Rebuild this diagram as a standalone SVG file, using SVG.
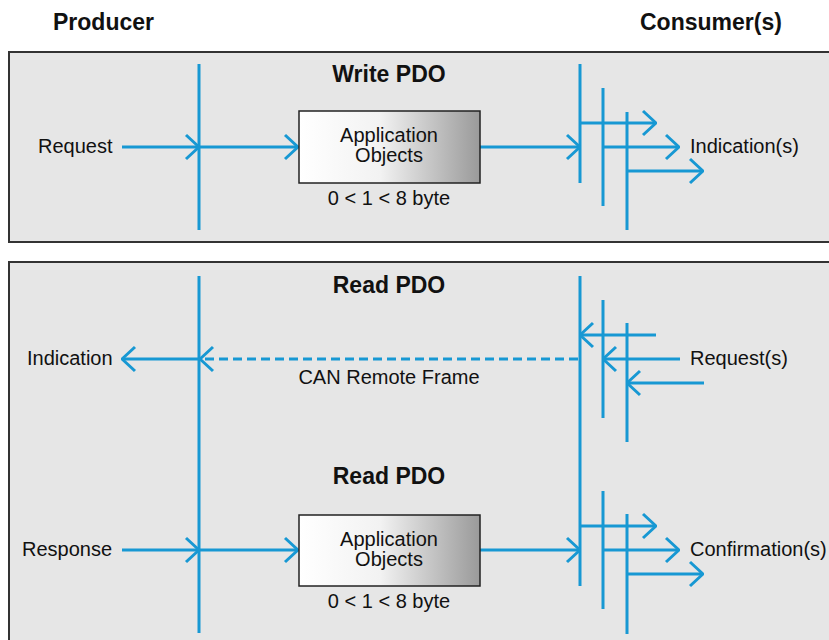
<svg xmlns="http://www.w3.org/2000/svg" width="829" height="640" viewBox="0 0 829 640">
<defs>
<linearGradient id="boxg" x1="0" y1="0" x2="1" y2="0">
<stop offset="0" stop-color="#ffffff"/>
<stop offset="0.45" stop-color="#f2f2f2"/>
<stop offset="1" stop-color="#9a9a9a"/>
</linearGradient>
<marker id="ah" viewBox="0 0 16 28" refX="15" refY="14" markerWidth="16" markerHeight="28" markerUnits="userSpaceOnUse" orient="auto">
<path d="M2,2 L15,14 L2,26" fill="none" stroke="#1798d3" stroke-width="3"/>
</marker>
</defs>
<style>
.panel{fill:#e6e6e6;stroke:#333;stroke-width:2}
.ln{stroke:#1798d3;stroke-width:3;fill:none}
.ar{stroke:#1798d3;stroke-width:3;fill:none;marker-end:url(#ah)}
.dash{stroke-dasharray:9,5}
.t{font-family:"Liberation Sans",Arial,sans-serif;font-size:20px;fill:#111}
.b{font-family:"Liberation Sans",Arial,sans-serif;font-size:23px;font-weight:bold;fill:#111}
.box{fill:url(#boxg);stroke:#222;stroke-width:1.5}
</style>
<rect width="829" height="640" fill="#fff"/>
<text class="b" x="53" y="30">Producer</text>
<text class="b" x="640" y="30">Consumer(s)</text>
<rect class="panel" x="9" y="52" width="830" height="190"/>
<rect class="panel" x="9" y="262" width="830" height="400"/>
<g id="connectors">
<line class="ln" x1="199" y1="64" x2="199" y2="230"/>
<line class="ln" x1="580" y1="64" x2="580" y2="183"/>
<line class="ln" x1="603" y1="88" x2="603" y2="206"/>
<line class="ln" x1="627" y1="112" x2="627" y2="230"/>
<line class="ar" x1="122" y1="147" x2="199" y2="147"/>
<line class="ar" x1="199" y1="147" x2="298" y2="147"/>
<line class="ar" x1="480" y1="147" x2="580" y2="147"/>
<line class="ar" x1="580" y1="123" x2="656" y2="123"/>
<line class="ar" x1="603" y1="147" x2="679" y2="147"/>
<line class="ar" x1="627" y1="171" x2="703" y2="171"/>
<line class="ln" x1="199" y1="276" x2="199" y2="633"/>
<line class="ln" x1="580" y1="276" x2="580" y2="586"/>
<line class="ln" x1="603" y1="300" x2="603" y2="418"/>
<line class="ln" x1="627" y1="323" x2="627" y2="442"/>
<line class="ln" x1="603" y1="491" x2="603" y2="609"/>
<line class="ln" x1="627" y1="514" x2="627" y2="634"/>
<line class="ar" x1="656" y1="335" x2="580" y2="335"/>
<line class="ar" x1="680" y1="359" x2="603" y2="359"/>
<line class="ar" x1="704" y1="383" x2="627" y2="383"/>
<line class="ar dash" x1="578" y1="359" x2="200" y2="359"/>
<line class="ar" x1="199" y1="359" x2="122" y2="359"/>
<line class="ar" x1="122" y1="550" x2="199" y2="550"/>
<line class="ar" x1="199" y1="550" x2="298" y2="550"/>
<line class="ar" x1="480" y1="550" x2="580" y2="550"/>
<line class="ar" x1="580" y1="526" x2="656" y2="526"/>
<line class="ar" x1="603" y1="550" x2="679" y2="550"/>
<line class="ar" x1="627" y1="574" x2="703" y2="574"/>
</g>
<g id="write-pdo">
<text class="b" x="389" y="82" text-anchor="middle">Write PDO</text>
<text class="t" x="38" y="153">Request</text>
<text class="t" x="690" y="153">Indication(s)</text>
</g>
<g id="app-objects-1">
<rect class="box" x="299" y="111" width="181" height="72"/>
<text class="t" x="389" y="142" text-anchor="middle">Application</text>
<text class="t" x="389" y="162" text-anchor="middle">Objects</text>
<text class="t" x="389" y="205" text-anchor="middle">0 &lt; 1 &lt; 8 byte</text>
</g>
<g id="read-pdo-request">
<text class="b" x="389" y="293" text-anchor="middle">Read PDO</text>
<text class="t" x="27" y="365">Indication</text>
<text class="t" x="690" y="365">Request(s)</text>
<text class="t" x="389" y="384" text-anchor="middle">CAN Remote Frame</text>
</g>
<g id="read-pdo-response">
<text class="b" x="389" y="484" text-anchor="middle">Read PDO</text>
<text class="t" x="22" y="556">Response</text>
<text class="t" x="690" y="556">Confirmation(s)</text>
</g>
<g id="app-objects-2">
<rect class="box" x="299" y="515" width="181" height="71"/>
<text class="t" x="389" y="546" text-anchor="middle">Application</text>
<text class="t" x="389" y="566" text-anchor="middle">Objects</text>
<text class="t" x="389" y="608" text-anchor="middle">0 &lt; 1 &lt; 8 byte</text>
</g>
</svg>
